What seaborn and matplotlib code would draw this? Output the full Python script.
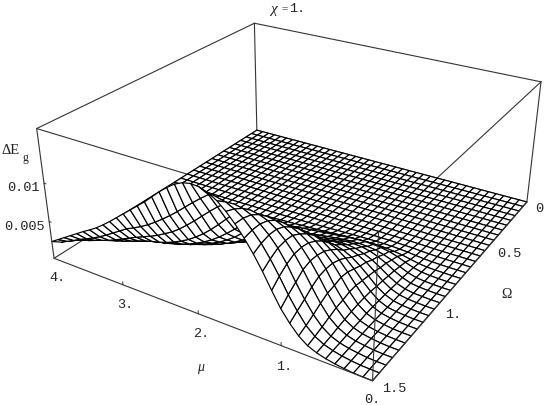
#!/usr/bin/env python3
"""Gap surface at chi = 1, drawn as a hidden-line mesh over (mu, Omega)."""
import numpy as np
import matplotlib
matplotlib.use('Agg')
import matplotlib.pyplot as plt
import seaborn as sns

mu_vals = [i / 10 for i in range(41)]
omega_vals = [i / 20 for i in range(31)]

# heights, in units of 1e-5, one list per Omega row
z_000 = z_005 = z_010 = z_015 = z_020 = z_025 = z_030 = z_035 = z_040 = z_045 = z_050 = [0] * 41
z_055 = [0,0,0,0,0,0,1,1,2,2,2,2,2,2,2,1,1,1,1,1,1,1,0,0,0,0,0,0,0,0,0,0,0,0,0,0,0,0,0,0,0]
z_060 = [0,0,0,0,0,2,4,6,8,10,10,10,10,8,8,6,6,6,4,4,4,4,2,2,2,2,0,0,0,0,0,0,0,0,0,0,0,0,0,0,0]
z_065 = [0,0,0,0,2,5,10,17,20,23,25,25,25,23,20,17,15,13,12,10,10,8,8,5,5,5,2,2,2,2,2,0,0,0,0,0,0,0,0,0,0]
z_070 = [0,0,0,2,5,12,22,35,42,48,50,50,48,45,42,38,35,30,27,23,20,18,15,12,10,8,8,5,5,2,2,2,2,2,0,0,0,0,0,0,0]
z_075 = [0,0,3,5,10,23,44,68,83,94,100,100,96,91,86,78,70,62,55,49,47,39,34,29,23,18,13,10,8,5,5,3,3,3,3,3,3,3,0,0,0]
z_080 = [0,0,3,8,19,43,81,124,157,176,186,190,186,178,167,154,143,130,119,108,95,84,70,59,49,38,30,22,16,11,8,5,5,5,5,3,3,3,3,3,3]
z_085 = [0,0,4,10,23,53,99,152,190,219,232,238,236,226,213,198,182,167,152,137,124,108,91,76,63,49,38,28,21,13,10,8,8,6,6,6,4,4,4,2,2]
z_090 = [0,0,5,12,27,65,120,185,237,278,300,308,305,292,275,257,237,218,198,177,158,138,117,98,80,63,50,38,27,20,14,12,10,9,8,8,6,6,5,5,3]
z_095 = [0,1,5,12,30,68,130,203,269,317,351,367,367,354,335,310,285,262,239,215,191,166,141,119,98,80,64,49,37,26,17,15,12,11,10,9,7,6,6,5,4]
z_100 = [0,1,7,15,34,75,144,232,316,374,421,444,451,438,412,385,352,324,291,262,231,200,170,143,119,97,79,63,47,34,24,20,17,14,12,11,10,9,8,7,6]
z_105 = [0,1,7,16,36,81,151,250,343,421,476,510,520,505,475,440,405,370,335,300,270,235,200,170,143,120,100,80,62,47,37,31,26,22,19,16,14,12,10,8,7]
z_110 = [0,1,8,19,36,83,166,269,384,486,563,611,635,638,615,575,530,485,435,385,335,290,250,215,185,155,130,110,90,74,60,52,44,38,32,27,23,19,16,13,10]
z_115 = [0,2,8,21,42,87,167,289,422,540,631,707,745,760,740,695,640,580,520,465,410,360,315,275,240,210,180,155,135,115,100,86,74,63,54,46,38,31,25,19,14]
z_120 = [0,2,8,22,43,87,165,287,435,574,687,779,835,864,868,835,775,705,640,565,490,430,380,335,295,260,230,205,185,165,150,130,115,100,85,72,60,48,38,28,20]
z_125 = [0,2,8,21,42,78,155,265,410,580,715,830,905,955,978,970,915,845,770,685,600,530,470,420,375,335,300,270,245,225,205,180,160,140,120,100,85,70,55,40,28]
z_130 = [0,2,8,22,40,76,140,250,395,565,720,850,960,1030,1075,1090,1060,985,895,805,720,640,570,510,460,415,380,350,320,300,280,250,220,195,170,145,120,100,80,60,42]
z_135 = [0,2,8,22,38,70,125,215,350,515,690,845,970,1070,1140,1180,1200,1170,1095,1000,900,805,720,645,580,525,480,440,410,385,360,325,290,255,225,195,165,140,115,90,65]
z_140 = [0,2,7,20,36,62,105,180,295,445,615,800,955,1075,1170,1245,1290,1310,1285,1215,1130,1040,950,865,785,715,660,605,560,520,480,435,390,345,305,270,235,200,170,135,100]
z_145 = [0,2,6,17,33,57,92,150,245,385,545,730,900,1050,1170,1275,1350,1400,1425,1425,1350,1270,1185,1100,1020,945,875,810,755,705,660,600,540,480,425,375,330,290,240,195,150]
z_150 = [0,1,5,15,30,50,80,125,205,320,460,640,830,1000,1150,1280,1390,1480,1540,1575,1585,1565,1520,1450,1370,1280,1190,1110,1030,950,870,790,715,645,585,530,470,410,350,290,230]

z_rows = [z_000, z_005, z_010, z_015, z_020, z_025, z_030, z_035, z_040, z_045, z_050,
          z_055, z_060, z_065, z_070, z_075, z_080, z_085, z_090, z_095, z_100,
          z_105, z_110, z_115, z_120, z_125, z_130, z_135, z_140, z_145, z_150]

mu_ticks = [1, 2, 3]
z_ticks = [0.005, 0.01]
MU_MAX, OM_MAX, Z_MAX = 4.0, 1.5, 0.0168

sns.set_theme(style='white')
plt.rcParams['font.family'] = ['Liberation Mono', 'DejaVu Sans']

W, H = 545, 405
fig = plt.figure(figsize=(W / 100, H / 100), dpi=100)
ax = fig.add_axes([0, 0, 1, 1], projection='3d')
ax.set_xlim(0, MU_MAX)
ax.set_ylim(0, OM_MAX)
ax.set_zlim(0, Z_MAX)
ax.view_init(elev=26.89, azim=121.80)
ax.set_box_aspect((1, 1.001, 0.3955), zoom=2.7667)
ax.set_axis_off()
ax.computed_zorder = False

# put the view where the reference has it: 984.7 px per view unit, origin at (302.3, 168.3)
ax.apply_aspect()
p0 = ax.transData.transform((0, 0))
p1 = ax.transData.transform((1, 0))
bb = ax.get_position()
w0 = bb.width * W
fx = (p0[0] - bb.x0 * W) / w0
fy = (p0[1] - bb.y0 * H) / w0
w1 = w0 * 984.7 / (p1[0] - p0[0])
ax.set_position([(302.34 - fx * w1) / W, (H - 168.32 - fy * w1) / H, w1 / W, w1 / H])

X, Y = np.meshgrid(mu_vals, omega_vals)
Z = np.array(z_rows) * 1e-5
surf = ax.plot_surface(X, Y, Z, rstride=1, cstride=1, color='white', edgecolor='black',
                       linewidth=0.85, shade=False, zorder=2)
surf.set_clip_on(False)


def edge(a, b, z, lw=0.8, c='#333333'):
    ax.plot([a[0], b[0]], [a[1], b[1]], [a[2], b[2]], color=c, lw=lw, zorder=z, clip_on=False)


F = (0, OM_MAX)
L = (MU_MAX, OM_MAX)
R = (0, 0)
B = (MU_MAX, 0)
# behind the surface
for p, q in [(L, B), (B, R)]:
    edge((*p, 0), (*q, 0), 1)
for p, q in [(L, B), (B, R), (L, F), (R, F)]:
    edge((*p, Z_MAX), (*q, Z_MAX), 1)
for p in [B, R]:
    edge((*p, 0), (*p, Z_MAX), 1)
# in front of it
for p, q in [(F, L), (F, R)]:
    edge((*p, 0), (*q, 0), 3)
for p in [F, L]:
    edge((*p, 0), (*p, Z_MAX), 3)

for m in mu_ticks:
    edge((m, OM_MAX, 0), (m, OM_MAX, 0.0004), 3, lw=0.7)
for t in z_ticks:
    edge((MU_MAX, OM_MAX, t), (MU_MAX - 0.03, OM_MAX, t), 3, lw=0.7)


def label(x, y, s, size=9.7, **kw):
    fig.text(x / W, 1 - y / H, s, ha='center', va='center', size=size, color='#222222', **kw)


serif = ['Liberation Serif', 'DejaVu Sans']
for x, y, s in [(57, 278, '4.'), (125, 305, '3.'), (201, 334, '2.'), (284, 367, '1.'), (372, 400, '0.'),
                (394, 389, '1.5'), (453, 315, '1.'), (509, 254, '0.5'), (539, 209, '0'),
                (24, 227, '0.005'), (23, 188, '0.01'), (297, 9, '1.')]:
    label(x, y, s)
label(201, 367, 'μ', size=10, family=serif, style='italic')
label(506, 295, 'Ω', size=10, family=serif)
label(274, 9, 'χ', size=11, family=serif, style='italic')
label(285, 9, '=', size=8, family=serif)
label(11, 150, 'ΔE', size=10.5, family=serif)
label(25, 158, 'g', size=8.5, family=serif)

fig.savefig('out.png', dpi=100)
